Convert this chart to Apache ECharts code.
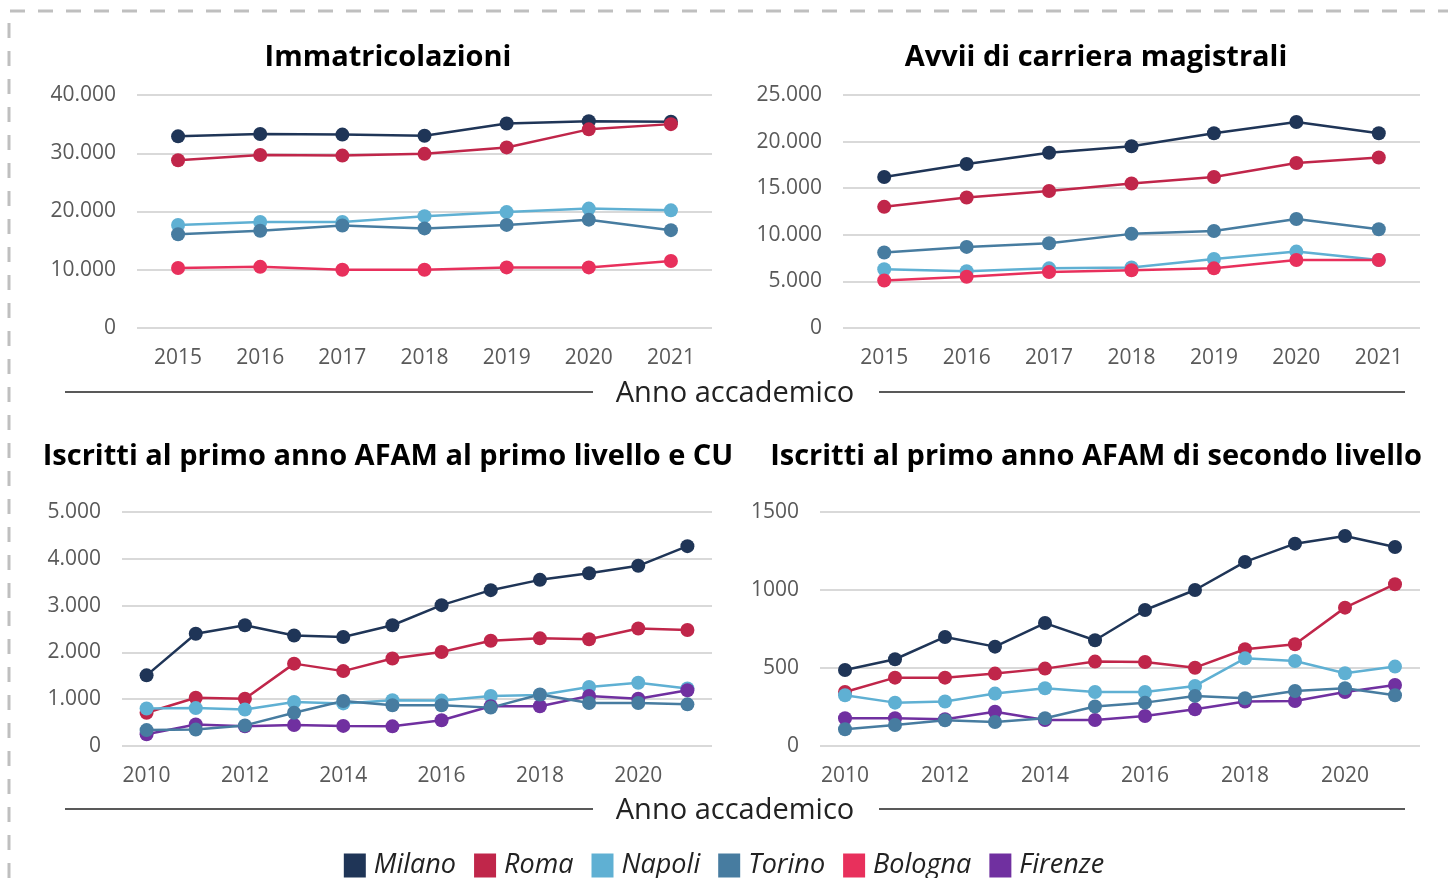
<!DOCTYPE html>
<html>
<head>
<meta charset="utf-8">
<script src="https://cdn.jsdelivr.net/npm/echarts@6/dist/echarts.min.js"></script>
<style>
  html, body { margin: 0; padding: 0; background: #ffffff; }
  #chart { width: 1448px; height: 878px; }
</style>
</head>
<body>
<div id="chart"></div>
<script>
// categorie
var anniBreve = ["2015", "2016", "2017", "2018", "2019", "2020", "2021"];
var anniAfam = ["2010", "2011", "2012", "2013", "2014", "2015", "2016", "2017", "2018", "2019", "2020", "2021"];
var citta = ["Milano", "Roma", "Napoli", "Torino", "Bologna", "Firenze"];

// Immatricolazioni
var immMilano = [32900, 33300, 33200, 33000, 35100, 35500, 35400];
var immRoma = [28800, 29700, 29600, 29900, 31000, 34100, 35000];
var immNapoli = [17700, 18200, 18200, 19200, 19900, 20500, 20200];
var immTorino = [16100, 16700, 17600, 17100, 17700, 18600, 16800];
var immBologna = [10300, 10500, 10000, 10000, 10400, 10400, 11500];

// Avvii di carriera magistrali
var magMilano = [16200, 17600, 18800, 19500, 20900, 22100, 20900];
var magRoma = [13000, 14000, 14700, 15500, 16200, 17700, 18300];
var magNapoli = [6300, 6100, 6400, 6500, 7400, 8200, 7300];
var magTorino = [8100, 8700, 9100, 10100, 10400, 11700, 10600];
var magBologna = [5100, 5500, 6000, 6200, 6400, 7300, 7300];

// AFAM primo livello e CU
var af1Milano = [1510, 2400, 2580, 2360, 2330, 2580, 3010, 3330, 3550, 3690, 3850, 4270];
var af1Roma = [710, 1030, 1010, 1760, 1600, 1870, 2010, 2250, 2300, 2280, 2510, 2480];
var af1Napoli = [800, 810, 780, 940, 910, 980, 970, 1070, 1090, 1260, 1350, 1230];
var af1Torino = [340, 350, 440, 710, 960, 870, 870, 820, 1100, 920, 920, 890];
var af1Firenze = [250, 460, 420, 450, 430, 420, 550, 850, 850, 1070, 1010, 1190];

// AFAM secondo livello
var af2Milano = [487, 556, 699, 637, 788, 678, 872, 1000, 1180, 1297, 1346, 1276];
var af2Roma = [346, 438, 438, 464, 496, 541, 538, 502, 620, 652, 887, 1037];
var af2Napoli = [325, 278, 285, 336, 370, 346, 346, 385, 562, 545, 466, 509];
var af2Torino = [107, 135, 165, 154, 178, 253, 278, 321, 306, 353, 370, 325];
var af2Firenze = [178, 178, 171, 220, 167, 167, 192, 235, 285, 288, 346, 391];

var colori = {
  Milano: "#1f3557",
  Roma: "#c0264a",
  Napoli: "#5fb0d3",
  Torino: "#477ca0",
  Bologna: "#e8305c",
  Firenze: "#7030a0"
};

var font = "'Open Sans', 'DejaVu Sans', sans-serif";
var grigio = "#595959";

function serie(nome, dati, idx) {
  return {
    name: nome,
    type: "line",
    xAxisIndex: idx,
    yAxisIndex: idx,
    data: dati,
    symbol: "circle",
    symbolSize: 14,
    lineStyle: { width: 2.5, color: colori[nome] },
    itemStyle: { color: colori[nome] },
    emphasis: { disabled: true }
  };
}

function puntini(v) {
  return String(v).replace(/\B(?=(\d{3})+(?!\d))/g, ".");
}

function asseX(idx, dati, intervallo) {
  return {
    type: "category",
    gridIndex: idx,
    data: dati,
    boundaryGap: true,
    axisLine: { show: false },
    axisTick: { show: false },
    axisLabel: { color: grigio, fontSize: 21, fontFamily: font, margin: 20, interval: intervallo }
  };
}

function asseY(idx, max, passo, conPunti) {
  return {
    type: "value",
    gridIndex: idx,
    min: 0,
    max: max,
    interval: passo,
    axisLine: { show: false },
    axisTick: { show: false },
    splitLine: { lineStyle: { color: "#d9d9d9", width: 2 } },
    axisLabel: {
      color: grigio,
      fontSize: 21,
      fontFamily: font,
      margin: 21,
      formatter: function(v) { return conPunti ? puntini(v) : String(v); }
    }
  };
}

function titolo(testo, x, y) {
  return {
    text: testo,
    left: x,
    top: y,
    textAlign: "center",
    textStyle: { fontSize: 29, fontWeight: "bold", color: "#000000", fontFamily: font }
  };
}

function separatore(y) {
  return [
    { type: "line", shape: { x1: 65, y1: y, x2: 593, y2: y }, style: { stroke: grigio, lineWidth: 2 } },
    { type: "line", shape: { x1: 879, y1: y, x2: 1405, y2: y }, style: { stroke: grigio, lineWidth: 2 } },
    {
      type: "text",
      x: 735,
      y: y + 2,
      style: { text: "Anno accademico", fill: "#222222", fontSize: 29, fontFamily: font, textAlign: "center", textVerticalAlign: "middle" }
    }
  ];
}

var myChart = echarts.init(document.getElementById("chart"), null, { renderer: "canvas" });

var option = {
  backgroundColor: "#ffffff",
  animation: false,
  title: [
    titolo("Immatricolazioni", 383, 38),
    titolo("Avvii di carriera magistrali", 1091, 38),
    titolo("Iscritti al primo anno AFAM al primo livello e CU", 383, 437),
    titolo("Iscritti al primo anno AFAM di secondo livello", 1091, 437)
  ],
  legend: {
    data: citta,
    bottom: -6,
    left: "center",
    icon: "rect",
    itemWidth: 22,
    itemHeight: 24,
    itemGap: 18,
    textStyle: { fontSize: 27, fontStyle: "italic", color: "#222222", fontFamily: font, padding: [0, 0, 0, 3] }
  },
  grid: [
    { left: 137, top: 95, width: 575, height: 233 },
    { left: 843, top: 95, width: 577, height: 233 },
    { left: 122, top: 512, width: 590, height: 234 },
    { left: 820, top: 512, width: 600, height: 234 }
  ],
  xAxis: [
    asseX(0, anniBreve, 0),
    asseX(1, anniBreve, 0),
    asseX(2, anniAfam, 1),
    asseX(3, anniAfam, 1)
  ],
  yAxis: [
    asseY(0, 40000, 10000, true),
    asseY(1, 25000, 5000, true),
    asseY(2, 5000, 1000, true),
    asseY(3, 1500, 500, false)
  ],
  series: [
    serie("Milano", immMilano, 0),
    serie("Roma", immRoma, 0),
    serie("Napoli", immNapoli, 0),
    serie("Torino", immTorino, 0),
    serie("Bologna", immBologna, 0),

    serie("Milano", magMilano, 1),
    serie("Roma", magRoma, 1),
    serie("Napoli", magNapoli, 1),
    serie("Torino", magTorino, 1),
    serie("Bologna", magBologna, 1),

    serie("Milano", af1Milano, 2),
    serie("Roma", af1Roma, 2),
    serie("Napoli", af1Napoli, 2),
    serie("Firenze", af1Firenze, 2),
    serie("Torino", af1Torino, 2),

    serie("Milano", af2Milano, 3),
    serie("Roma", af2Roma, 3),
    serie("Napoli", af2Napoli, 3),
    serie("Firenze", af2Firenze, 3),
    serie("Torino", af2Torino, 3)
  ],
  graphic: [
    {
      type: "polyline",
      shape: { points: [[9, 878], [9, 11], [1448, 11]] },
      style: { stroke: "#bfbfbf", lineWidth: 3, lineDash: [15, 13], fill: null }
    }
  ].concat(separatore(392), separatore(809))
};

myChart.setOption(option);
window.onresize = function() {
  myChart.resize();
};
</script>
</body>
</html>
